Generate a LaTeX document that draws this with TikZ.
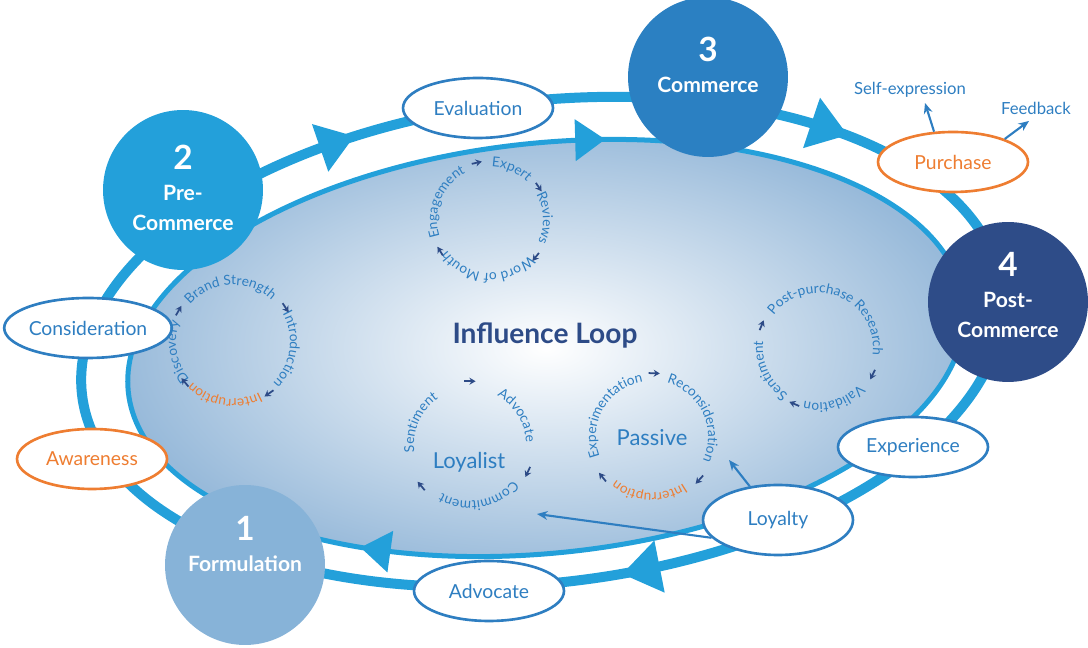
\documentclass[tikz,border=0pt]{standalone}
\usepackage{fontspec}
\setmainfont{Lato}
\usetikzlibrary{shapes.geometric,arrows.meta,decorations.text}

\definecolor{ringblue}{RGB}{35,160,218}
\definecolor{lblue}{RGB}{46,126,193}
\definecolor{navy}{RGB}{45,75,135}
\definecolor{orangec}{RGB}{238,125,49}
\definecolor{cone}{RGB}{135,179,216}
\definecolor{cthree}{RGB}{43,128,194}
\definecolor{cfour}{RGB}{46,76,136}
\definecolor{gradblue}{RGB}{152,186,218}

\tikzset{
  ring/.style={draw=ringblue, line width=0.2cm},
  stage/.style={circle, minimum size=3.2cm, inner sep=0pt},
  stagetxt/.style={text=white, align=center, font=\bfseries\fontsize{12}{17}\selectfont},
  phase/.style={ellipse, draw=lblue, line width=1.5pt, fill=white, minimum width=3cm, minimum height=1.2cm, inner sep=0pt, text=lblue, font=\fontsize{11}{13}\selectfont},
  hot/.style={draw=orangec, text=orangec},
  note/.style={text=lblue, font=\fontsize{9.5}{11}\selectfont},
  loop arrow/.style={navy, line width=1pt, -{Stealth[length=3.5pt,width=4pt]}},
  link/.style={lblue, line width=1.2pt, -{Stealth[length=6pt,width=5pt]}},
}

\newcommand\arcfont{\fontsize{7.8}{9}\selectfont}
% text on a clockwise arc: centre, radius, mid angle, span, colour, text
\newcommand\arctext[6]{%
  \pgfmathsetmacro\aS{#3+#4/2}\pgfmathsetmacro\aE{#3-#4/2}%
  \path[decorate, decoration={text along path, text align=center, text color=#5, text={|\arcfont|#6}}]
    ([shift={(\aS:#2)}]#1) arc[start angle=\aS, end angle=\aE, radius=#2];}
\newcommand\looparr[3]{%
  \pgfmathsetmacro\arA{#2+5}\pgfmathsetmacro\arB{#2-5}%
  \draw[loop arrow] ([shift={(\arA:#3)}]#1) -- ([shift={(\arB:#3)}]#1);}
% big triangle on a ring: cx, cy, rx, ry, rotation, angle, size
\newcommand\ringtip[7]{%
  \pgfmathsetmacro\tipang{atan2(-(#4)*cos(#6),(#3)*sin(#6))}%
  \begin{scope}[shift={(#1,#2)}, rotate=#5]
    \fill[ringblue, shift={(#6:#3 and #4)}, rotate=\tipang] (#7,0) -- (-#7,1.4*#7) -- (-#7,-1.4*#7) -- cycle;
  \end{scope}}

\begin{document}
\begin{tikzpicture}[x=0.02cm, y=0.02cm]
\useasboundingbox (0,0) rectangle (1088,648);

% outer ring and influence loop
\begin{scope}[shift={(542,306)}, rotate=6.5]
  \draw[ring] (0,0) ellipse [x radius=463, y radius=241];
\end{scope}
\begin{scope}[shift={(546,300)}, rotate=6]
  \shade[inner color=white, outer color=gradblue] (0,0) ellipse [x radius=420, y radius=205];
  \draw[draw=ringblue, line width=0.1cm] (0,0) ellipse [x radius=420, y radius=205];
\end{scope}

\ringtip{542}{306}{463}{241}{6.5}{113}{18}
\ringtip{542}{306}{463}{241}{6.5}{48}{19}
\ringtip{542}{306}{463}{241}{6.5}{-81}{19}
\ringtip{546}{300}{420}{205}{6}{81}{15}
\ringtip{546}{300}{420}{205}{6}{-117}{15}

% stages
\node[stage, fill=cone] (formul) at (245,83) {};
\node[stagetxt] (formul-t) at (245,104) {{\fontsize{19}{19}\selectfont 1}\\[1pt]Formulation};
\node[stage, fill=ringblue] (precom) at (183,458) {};
\node[stagetxt] (precom-t) at (183,460) {{\fontsize{19}{19}\selectfont 2}\\[1pt]Pre-\\Commerce};
\node[stage, fill=cthree] (commer) at (708,571) {};
\node[stagetxt] (commer-t) at (708,583) {{\fontsize{19}{19}\selectfont 3}\\[1pt]Commerce};
\node[stage, fill=cfour] (postcom) at (1008,346) {};
\node[stagetxt] (postcom-t) at (1008,353) {{\fontsize{19}{19}\selectfont 4}\\[1pt]Post-\\Commerce};

% touch points
\node[phase] (evalu) at (478,540) {Evaluation};
\node[phase] (consid) at (88,320) {Consideration};
\node[phase, hot] (aware) at (92,189) {Awareness};
\node[phase] (advoc) at (489,57) {Advocate};
\node[phase, minimum height=1.4cm] (loyal) at (778,128) {Loyalty};
\node[phase] (exper) at (913,201) {Experience};
\node[phase, hot] (purch) at (953,486) {Purchase};

\node[note] (selfexp) at (910,558) {Self-expression};
\node[note] (feedb) at (1036,540) {Feedback};
\coordinate (selfend) at (925,545);
\coordinate (feedend) at (1029,527);
\draw[link] (purch.122) -- (selfend);
\draw[link] (purch.24) -- (feedend);

\coordinate (commit) at (537,134);
\coordinate (recons) at (729,188);
\draw[link] (loyal.130) -- (recons);
\draw[link] (loyal.195) -- (commit);

\node[text=navy, font=\bfseries\fontsize{16}{18}\selectfont] (infl) at (545,313) {Influence Loop};
\node[text=lblue, font=\fontsize{12.5}{14}\selectfont] (loyalist) at (469,186) {Loyalist};
\node[text=lblue, font=\fontsize{12.5}{14}\selectfont] (passive) at (652,210) {Passive};

% small loops
\coordinate (brand) at (233,306);
\arctext{brand}{57}{93}{180}{lblue}{Brand Strength}
\arctext{brand}{57}{-8}{180}{lblue}{Introduction}
\arctext{brand}{57}{-99}{180}{orangec}{Interruption}
\arctext{brand}{57}{190}{180}{lblue}{Discovery}
\looparr{brand}{33}{63}
\looparr{brand}{-55}{63}
\looparr{brand}{-140}{63}
\looparr{brand}{150}{63}

\coordinate (expert) at (490,428);
\arctext{expert}{53}{158}{180}{lblue}{Engagement}
\arctext{expert}{53}{67}{180}{lblue}{Expert}
\arctext{expert}{53}{2}{180}{lblue}{Reviews}
\arctext{expert}{53}{-93}{180}{lblue}{Word of Mouth}
\looparr{expert}{103}{59}
\looparr{expert}{34}{59}
\looparr{expert}{-39}{59}
\looparr{expert}{-148}{59}

\coordinate (loyalc) at (470,203);
\arctext{loyalc}{56}{156}{180}{lblue}{Sentiment}
\arctext{loyalc}{56}{32}{180}{lblue}{Advocate}
\arctext{loyalc}{56}{-80}{180}{lblue}{Commitment}
\looparr{loyalc}{90}{64}
\looparr{loyalc}{-25}{64}
\looparr{loyalc}{-140}{64}

\coordinate (passc) at (652,211);
\arctext{passc}{56}{150}{180}{lblue}{Experimentation}
\arctext{passc}{56}{25}{180}{lblue}{Reconsideration}
\arctext{passc}{56}{-93}{180}{orangec}{Interruption}
\looparr{passc}{88}{64}
\looparr{passc}{-42}{64}
\looparr{passc}{-141}{64}

\coordinate (postc) at (818,300);
\arctext{postc}{55}{68}{220}{lblue}{Post-purchase Research}
\arctext{postc}{55}{-73}{180}{lblue}{Validation}
\arctext{postc}{55}{205}{180}{lblue}{Sentiment}
\looparr{postc}{158}{61}
\looparr{postc}{-26}{61}
\looparr{postc}{-113}{61}
\end{tikzpicture}
\end{document}
